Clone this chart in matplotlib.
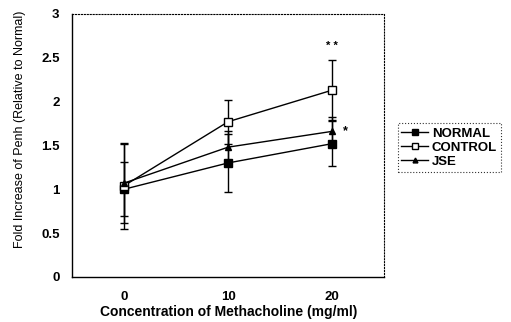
import matplotlib.pyplot as plt
from matplotlib.lines import Line2D
import numpy as np

plt.rcParams['font.family'] = ['Liberation Sans', 'DejaVu Sans']

doses = ['0', '10', '20']
normal = [1.00, 1.30, 1.52]
normal_err = [0.31, 0.33, 0.26]
control = [1.04, 1.77, 2.13]
control_err = [0.49, 0.25, 0.34]
jse = [1.07, 1.48, 1.66]
jse_err = [0.45, 0.18, 0.16]

fig = plt.figure(figsize=(5.11, 3.22), dpi=100)
ax = fig.add_axes([0.141, 0.14, 0.611, 0.817])

x = np.arange(len(doses))

styles = [
    (normal, normal_err, 's', 5.5, 'black', 'NORMAL'),
    (control, control_err, 's', 5.5, 'white', 'CONTROL'),
    (jse, jse_err, '^', 4.5, 'black', 'JSE'),
]
handles = []
for vals, err, mk, ms, fc, name in styles:
    ax.errorbar(x, vals, yerr=err, color='black', lw=1, marker=mk, ms=ms,
                mfc=fc, mec='black', capsize=3, elinewidth=1)
    handles.append(Line2D([], [], color='black', lw=1, marker=mk, ms=ms - 1,
                          mfc=fc, mec='black', label=name))

ax.text(2, 2.63, '* *', ha='center', va='center', fontsize=8, fontweight='bold')
ax.text(2.1, 1.66, '*', ha='left', va='center', fontsize=9, fontweight='bold')

ax.set_xlim(-0.5, 2.5)
ax.set_ylim(0, 3)
ax.set_xticks(x)
ax.set_xticklabels(doses)
ax.set_yticks(np.arange(0, 3.01, 0.5))
ax.set_yticklabels(['0', '0.5', '1', '1.5', '2', '2.5', '3'])
ax.tick_params(axis='x', length=0, labelsize=9.5, pad=10)
ax.tick_params(axis='y', length=0, labelsize=9.5, pad=9)
for lab in ax.get_xticklabels() + ax.get_yticklabels():
    lab.set_fontweight('bold')

for s in ['top', 'right']:
    ax.spines[s].set_linestyle(':')
    ax.spines[s].set_linewidth(0.8)
for s in ['left', 'bottom']:
    ax.spines[s].set_linewidth(1)

fig.text(0.447, 0.031, 'Concentration of Methacholine (mg/ml)', ha='center', va='center',
         fontsize=10, fontweight='bold')
fig.text(0.039, 0.23, 'Fold Increase of Penh (Relative to Normal)', rotation=90,
         ha='center', va='bottom', fontsize=9)

leg = fig.legend(handles=handles, loc='upper left', bbox_to_anchor=(0.765, 0.637),
                 fontsize=9.5, handlelength=2.0, handletextpad=0.3, borderpad=0.3,
                 labelspacing=0.15, fancybox=False, edgecolor='black', frameon=True)
leg.get_frame().set_linestyle(':')
leg.get_frame().set_linewidth(0.8)
for t in leg.get_texts():
    t.set_fontweight('bold')

fig.savefig('out.png', dpi=100)
